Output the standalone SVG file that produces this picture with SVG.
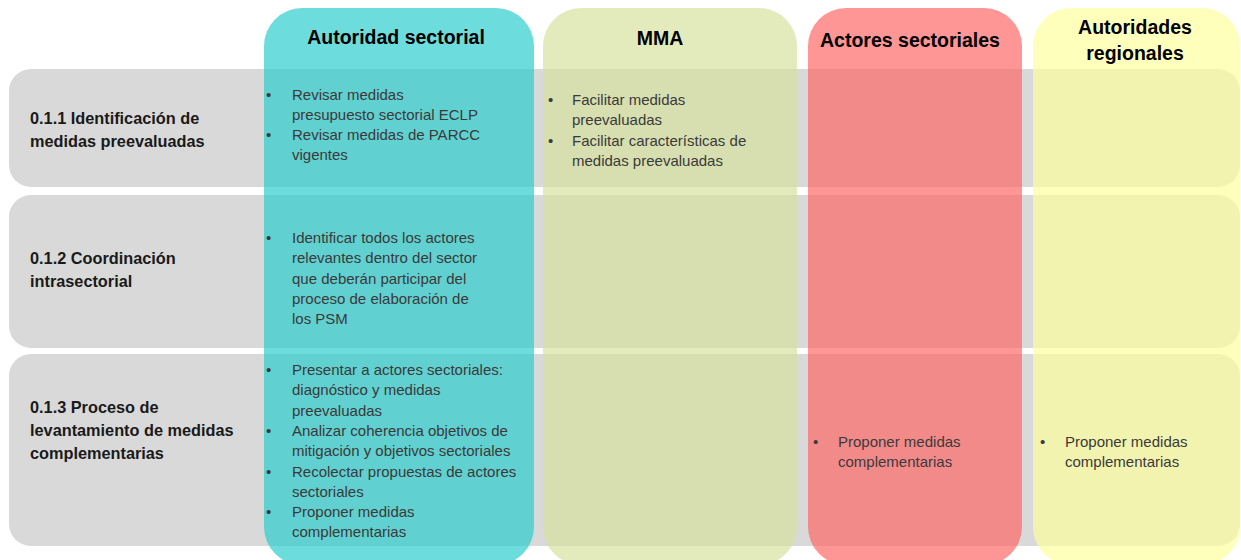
<svg xmlns="http://www.w3.org/2000/svg" width="1241" height="560" viewBox="0 0 1241 560">
<style>
.row{fill:#D9D9D9}
.col{fill-opacity:0.68}
.hd{font-family:"Liberation Sans",Arial,sans-serif;font-weight:bold;font-size:19.5px;fill:#000;text-anchor:middle}
.lb{font-family:"Liberation Sans",Arial,sans-serif;font-weight:bold;font-size:16.3px;fill:#1a1a1a}
.tx{font-family:"Liberation Sans",Arial,sans-serif;font-size:15px;fill:#3a3a3a}
</style>
<rect width="1241" height="560" fill="#fff"/>
<g id="rows">
<g id="row1"><rect class="row" x="9" y="69" width="1231" height="118" rx="22"/>
<text class="lb" x="30" y="124">0.1.1 Identificación de</text>
<text class="lb" x="30" y="147">medidas preevaluadas</text></g>
<g id="row2"><rect class="row" x="9" y="195" width="1231" height="153" rx="22"/>
<text class="lb" x="30" y="264">0.1.2 Coordinación</text>
<text class="lb" x="30" y="287">intrasectorial</text></g>
<g id="row3"><rect class="row" x="9" y="354" width="1231" height="192" rx="22"/>
<text class="lb" x="30" y="413">0.1.3 Proceso de</text>
<text class="lb" x="30" y="436">levantamiento de medidas</text>
<text class="lb" x="30" y="459">complementarias</text></g>
</g>
<g id="col-autoridad">
<rect class="col" x="264" y="8" width="270" height="557" rx="38" fill="#28CBCB"/>
<text class="hd" x="396" y="44">Autoridad sectorial</text>
<g class="tx">
<text x="266" y="100">•</text><text x="292" y="100">Revisar medidas</text>
<text x="292" y="120">presupuesto sectorial ECLP</text>
<text x="266" y="140">•</text><text x="292" y="140">Revisar medidas de PARCC</text>
<text x="292" y="160">vigentes</text>
<text x="266" y="243">•</text><text x="292" y="243">Identificar todos los actores</text>
<text x="292" y="263">relevantes dentro del sector</text>
<text x="292" y="284">que deberán participar del</text>
<text x="292" y="304">proceso de elaboración de</text>
<text x="292" y="324">los PSM</text>
<text x="266" y="375">•</text><text x="292" y="375">Presentar a actores sectoriales:</text>
<text x="292" y="395">diagnóstico y medidas</text>
<text x="292" y="416">preevaluadas</text>
<text x="266" y="436">•</text><text x="292" y="436">Analizar coherencia objetivos de</text>
<text x="292" y="456">mitigación y objetivos sectoriales</text>
<text x="266" y="477">•</text><text x="292" y="477">Recolectar propuestas de actores</text>
<text x="292" y="497">sectoriales</text>
<text x="266" y="517">•</text><text x="292" y="517">Proponer medidas</text>
<text x="292" y="537">complementarias</text>
</g>
</g>
<g id="col-mma">
<rect class="col" x="543" y="8" width="254" height="557" rx="38" fill="#D5E29E"/>
<text class="hd" x="660" y="45">MMA</text>
<g class="tx">
<text x="548" y="105">•</text><text x="572" y="105">Facilitar medidas</text>
<text x="572" y="125">preevaluadas</text>
<text x="548" y="146">•</text><text x="572" y="146">Facilitar características de</text>
<text x="572" y="166">medidas preevaluadas</text>
</g>
</g>
<g id="col-actores">
<rect class="col" x="808" y="8" width="214" height="557" rx="38" fill="#FF6464"/>
<text class="hd" x="910" y="47">Actores sectoriales</text>
<g class="tx">
<text x="813" y="447">•</text><text x="838" y="447">Proponer medidas</text>
<text x="838" y="467">complementarias</text>
</g>
</g>
<g id="col-regionales">
<rect class="col" x="1033" y="8" width="207" height="557" rx="38" fill="#FFFF9C"/>
<text class="hd" x="1135" y="34">Autoridades</text>
<text class="hd" x="1135" y="60">regionales</text>
<g class="tx">
<text x="1040" y="447">•</text><text x="1065" y="447">Proponer medidas</text>
<text x="1065" y="467">complementarias</text>
</g>
</g>
<g id="connectors"/>
</svg>
